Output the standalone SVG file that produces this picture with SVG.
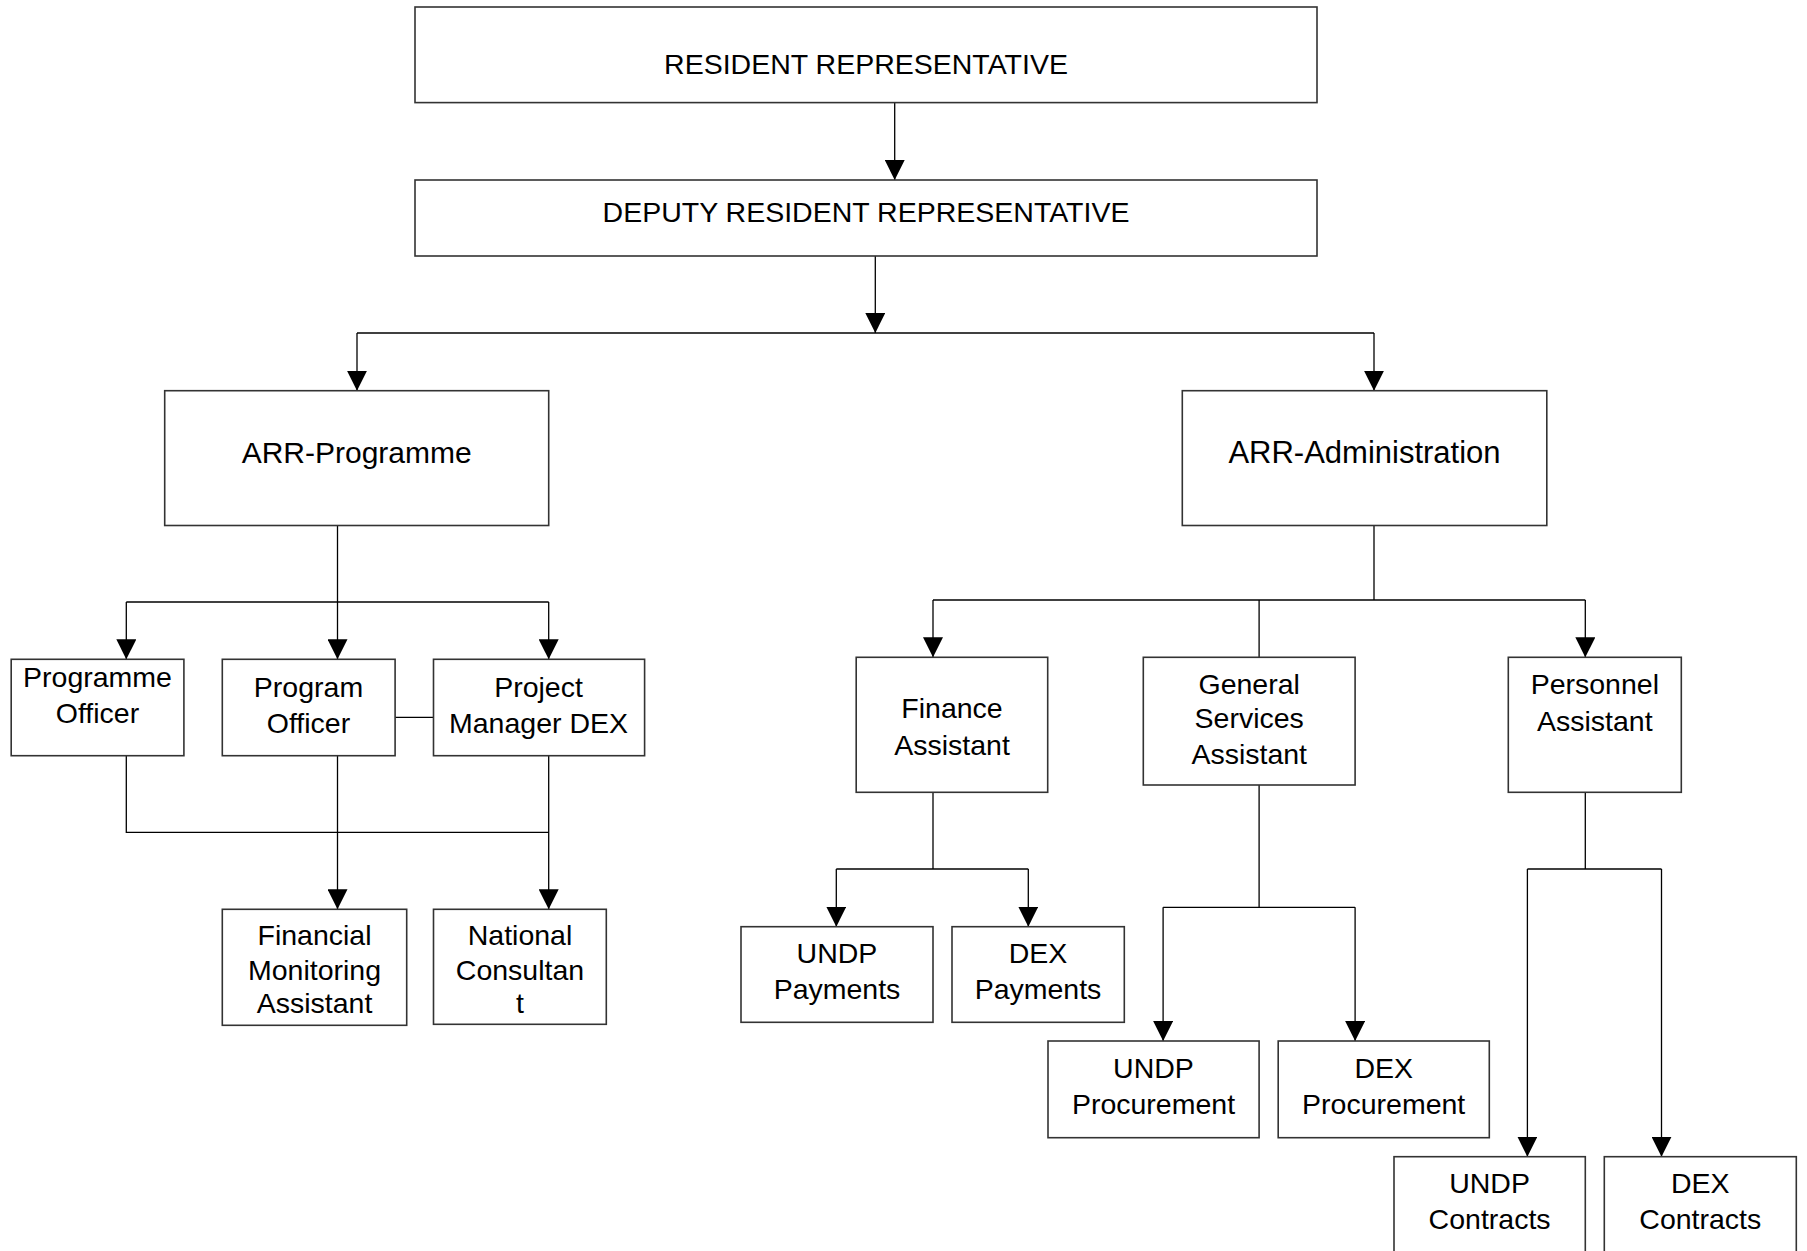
<svg xmlns="http://www.w3.org/2000/svg" width="1807" height="1251" viewBox="0 0 1807 1251">
<style>
.box{fill:#fff;stroke:#333;stroke-width:1.6}
.lbl{font-family:"Liberation Sans",Arial,sans-serif;font-size:28.5px;fill:#000;text-anchor:middle}
.big{font-size:30px}
.con{fill:none;stroke:#000;stroke-width:1.3}
</style>
<defs>
<marker id="ah" viewBox="0 0 20 20" refX="20" refY="10" markerWidth="20" markerHeight="20" markerUnits="userSpaceOnUse" orient="auto">
<path d="M0,0 L20,10 L0,20 z" fill="#000"/>
</marker>
</defs>
<rect width="1807" height="1251" fill="#fff"/>
<g id="connectors">
<path class="con" d="M894.7,102.6 V180" marker-end="url(#ah)"/>
<path class="con" d="M875.3,256 V333" marker-end="url(#ah)"/>
<path class="con" d="M357,333 H1374"/>
<path class="con" d="M357,333 V390.7" marker-end="url(#ah)"/>
<path class="con" d="M1374,333 V390.7" marker-end="url(#ah)"/>
<path class="con" d="M337.5,525.5 V659.3" marker-end="url(#ah)"/>
<path class="con" d="M126.3,602 H548.7"/>
<path class="con" d="M126.3,602 V659.3" marker-end="url(#ah)"/>
<path class="con" d="M548.7,602 V659.3" marker-end="url(#ah)"/>
<path class="con" d="M395.1,717.3 H433.5"/>
<path class="con" d="M126.3,755.7 V832.3 H548.7"/>
<path class="con" d="M337.5,755.7 V909.3" marker-end="url(#ah)"/>
<path class="con" d="M548.7,755.7 V909.3" marker-end="url(#ah)"/>
<path class="con" d="M1374,525.5 V600"/>
<path class="con" d="M933,600 H1585.3"/>
<path class="con" d="M933,600 V657.3" marker-end="url(#ah)"/>
<path class="con" d="M1585.3,600 V657.3" marker-end="url(#ah)"/>
<path class="con" d="M1259.1,600 V657.3"/>
<path class="con" d="M933,792.3 V869"/>
<path class="con" d="M836.3,869 H1028.3"/>
<path class="con" d="M836.3,869 V926.7" marker-end="url(#ah)"/>
<path class="con" d="M1028.3,869 V926.7" marker-end="url(#ah)"/>
<path class="con" d="M1259.1,785 V907.3"/>
<path class="con" d="M1163.1,907.3 H1355.1"/>
<path class="con" d="M1163.1,907.3 V1041" marker-end="url(#ah)"/>
<path class="con" d="M1355.1,907.3 V1041" marker-end="url(#ah)"/>
<path class="con" d="M1585.3,792.3 V869"/>
<path class="con" d="M1527.4,869 H1661.5"/>
<path class="con" d="M1527.4,869 V1156.7" marker-end="url(#ah)"/>
<path class="con" d="M1661.5,869 V1156.7" marker-end="url(#ah)"/>
</g>
<g id="rr"><rect class="box" x="415" y="7" width="902" height="95.6"/><text class="lbl" x="866" y="74">RESIDENT REPRESENTATIVE</text></g>
<g id="drr"><rect class="box" x="415" y="180" width="902" height="76"/><text class="lbl" x="866" y="221.7">DEPUTY RESIDENT REPRESENTATIVE</text></g>
<g id="arr-prog"><rect class="box" x="164.7" y="390.7" width="384" height="134.8"/><text class="lbl big" x="356.7" y="462.7">ARR-Programme</text></g>
<g id="arr-admin"><rect class="box" x="1182.3" y="390.7" width="364.5" height="134.8"/><text class="lbl big" x="1364.5" y="462.7" style="font-size:31px">ARR-Administration</text></g>
<g id="programme-officer"><rect class="box" x="11.2" y="659.3" width="172.7" height="96.4"/><text class="lbl" x="97.5" y="686.7">Programme</text><text class="lbl" x="97.5" y="722.7">Officer</text></g>
<g id="program-officer"><rect class="box" x="222.3" y="659.3" width="172.8" height="96.4"/><text class="lbl" x="308.5" y="696.5">Program</text><text class="lbl" x="308.5" y="732.7">Officer</text></g>
<g id="project-manager"><rect class="box" x="433.5" y="659.3" width="211.1" height="96.4"/><text class="lbl" x="538.5" y="696.5">Project</text><text class="lbl" x="538.5" y="732.7">Manager DEX</text></g>
<g id="fin-mon-assistant"><rect class="box" x="222.3" y="909.3" width="184.4" height="116"/><text class="lbl" x="314.5" y="945">Financial</text><text class="lbl" x="314.5" y="980">Monitoring</text><text class="lbl" x="314.5" y="1013.3">Assistant</text></g>
<g id="national-consultant"><rect class="box" x="433.5" y="909.3" width="172.8" height="115"/><text class="lbl" x="520" y="945">National</text><text class="lbl" x="520" y="980">Consultan</text><text class="lbl" x="520" y="1013.3">t</text></g>
<g id="finance-assistant"><rect class="box" x="856.2" y="657.3" width="191.5" height="135"/><text class="lbl" x="952" y="718.3">Finance</text><text class="lbl" x="952" y="755">Assistant</text></g>
<g id="gs-assistant"><rect class="box" x="1143.3" y="657.3" width="211.8" height="127.7"/><text class="lbl" x="1249.2" y="694">General</text><text class="lbl" x="1249.2" y="728.3">Services</text><text class="lbl" x="1249.2" y="764.3">Assistant</text></g>
<g id="personnel-assistant"><rect class="box" x="1508.3" y="657.3" width="173" height="135"/><text class="lbl" x="1594.8" y="694">Personnel</text><text class="lbl" x="1594.8" y="730.7">Assistant</text></g>
<g id="undp-payments"><rect class="box" x="741" y="926.7" width="192" height="95.6"/><text class="lbl" x="837" y="963.3">UNDP</text><text class="lbl" x="837" y="999">Payments</text></g>
<g id="dex-payments"><rect class="box" x="952" y="926.7" width="172.3" height="95.6"/><text class="lbl" x="1038" y="963.3">DEX</text><text class="lbl" x="1038" y="999">Payments</text></g>
<g id="undp-procurement"><rect class="box" x="1048" y="1041" width="211.1" height="96.7"/><text class="lbl" x="1153.5" y="1078.3">UNDP</text><text class="lbl" x="1153.5" y="1114">Procurement</text></g>
<g id="dex-procurement"><rect class="box" x="1278.2" y="1041" width="211.1" height="96.7"/><text class="lbl" x="1383.7" y="1078.3">DEX</text><text class="lbl" x="1383.7" y="1114">Procurement</text></g>
<g id="undp-contracts"><rect class="box" x="1394" y="1156.7" width="191.3" height="110"/><text class="lbl" x="1489.6" y="1193.3">UNDP</text><text class="lbl" x="1489.6" y="1229.3">Contracts</text></g>
<g id="dex-contracts"><rect class="box" x="1604.3" y="1156.7" width="192" height="110"/><text class="lbl" x="1700.3" y="1193.3">DEX</text><text class="lbl" x="1700.3" y="1229.3">Contracts</text></g>
</svg>
